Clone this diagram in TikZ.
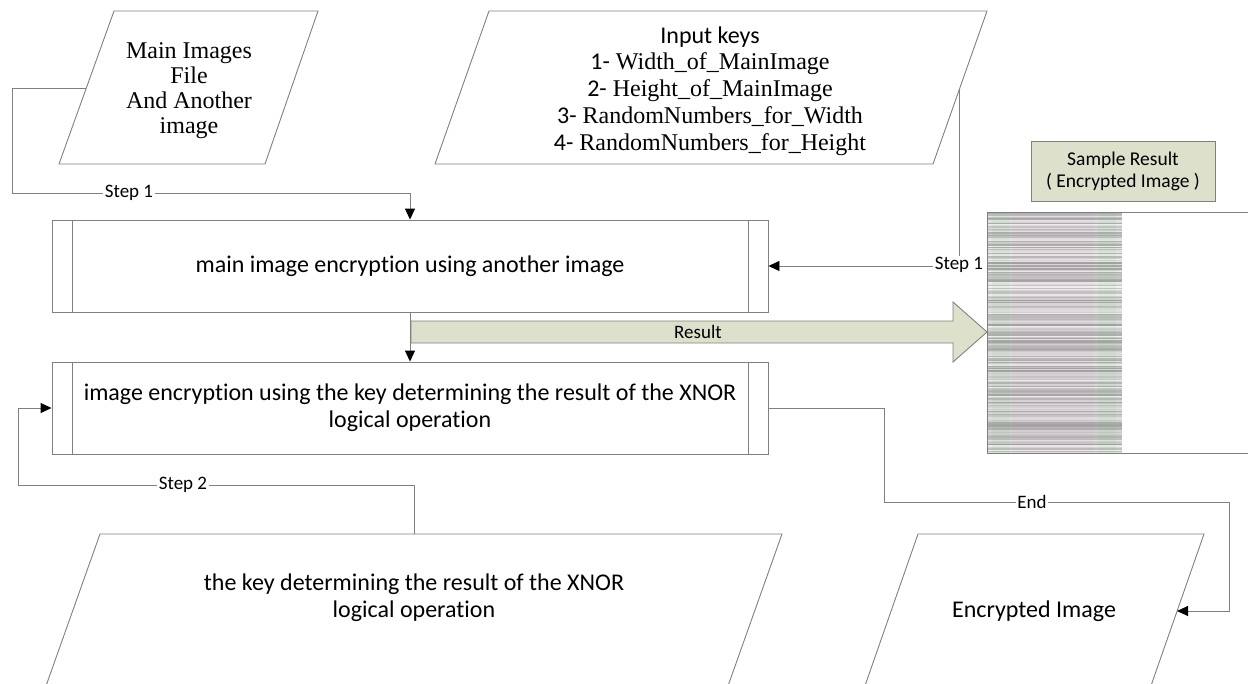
\documentclass[tikz,border=0pt]{standalone}
\usepackage{fontspec}
\setmainfont{Liberation Serif}
\newfontfamily\calib[Ligatures=NoCommon]{Carlito}
\usetikzlibrary{arrows.meta}
\definecolor{ln}{RGB}{128,128,128}
\definecolor{sage}{RGB}{221,224,203}
\begin{document}
\begin{tikzpicture}[x=1pt,y=-1pt,
  conn/.style={draw=ln, line width=0.9pt},
  arr/.style={conn, -{Triangle[length=11pt,width=10pt,color=black]}},
  proc/.style={draw=ln, line width=0.9pt, minimum width=716pt, minimum height=92pt,
    inner sep=0pt, align=center, font=\calib\fontsize{24}{27}\selectfont},
  io/.style={draw=ln, line width=0.9pt},
  lbl/.style={fill=white, inner sep=1.5pt, font=\calib\fontsize{19}{22}\selectfont},
  iotext/.style={align=center, font=\calib\fontsize{24}{27}\selectfont},
]
\useasboundingbox (0,0) rectangle (1248,683);
\begin{scope}
\clip (0,0) rectangle (1248,683);

% encrypted sample picture: noisy horizontal stripes
\pgfmathsetseed{12}
\fill[black!18] (987,212) rectangle (1122,453);
\foreach \k in {0,...,200} {
  \pgfmathsetmacro\yy{212.6+\k*1.2}
  \pgfmathrandominteger{\g}{6}{36}
  \draw[line width=1.2pt, black!\g] (987,\yy) -- (1122,\yy);
}
\fill[green!50!gray, opacity=0.06] (992,212) rectangle (1010,453);
\fill[green!50!gray, opacity=0.06] (1098,212) rectangle (1116,453);
\fill[magenta!60!gray, opacity=0.04] (1012,212) rectangle (1094,453);
\draw[conn] (987,212) rectangle (1270,453);

% sample caption
\node[draw=ln, line width=0.9pt, fill=sage, minimum width=184pt, minimum height=60pt,
  inner sep=0pt, align=center, font=\calib\fontsize{19.5}{22}\selectfont]
  (sample) at (1123,171) {Sample Result\\( Encrypted Image )};

% input: main images
\draw[io] (114,11) -- (318,11) -- (265,164) -- (59,164) -- cycle;
\node[align=center, font=\fontsize{24}{25}\selectfont] (mi) at (189,91)
  {Main Images\\File\\And Another\\image};
\coordinate (mi-w) at (86,88);

% input: keys
\draw[io] (489,11) -- (987,11) -- (933,164) -- (435,164) -- cycle;
\node[align=center, font=\fontsize{24}{26.8}\selectfont] (keys) at (710,91)
  {{\calib Input keys}\\
   {\calib 1-} Width\_of\_MainImage\\
   {\calib 2-} Height\_of\_MainImage\\
   {\calib 3-} RandomNumbers\_for\_Width\\
   {\calib 4-} RandomNumbers\_for\_Height};
\coordinate (keys-e) at (959,90);

% processing steps
\node[proc] (enc1) at (410,266) {main image encryption using another image};
\node[proc] (enc2) at (410,408) {image encryption using the key determining the result of the XNOR\\logical operation};
\foreach \b in {enc1,enc2} {
  \draw[conn] ([xshift=21pt]\b.north west) -- ([xshift=21pt]\b.south west);
  \draw[conn] ([xshift=-20pt]\b.north east) -- ([xshift=-20pt]\b.south east);
}

% input: XNOR key
\draw[io] (41,700) -- (100,534) -- (782,534) -- (723,700);
\node[iotext] (key) at (414,598) {the key determining the result of the XNOR\\logical operation};
\coordinate (key-n) at (414,534);

% output
\draw[io] (860,700) -- (918,534) -- (1204,534) -- (1146,700);
\node[iotext] (out) at (1034,611) {Encrypted Image};
\coordinate (out-e) at (1177,611);

% result block arrow
\draw[draw=ln, line width=0.9pt, fill=sage]
  (411,321) -- (953,321) -- (953,302) -- (987,332) -- (953,362) -- (953,343) -- (411,343) -- cycle;
\node[font=\calib\fontsize{19}{22}\selectfont] (res) at (698,332) {Result};

% connectors
\draw[arr] (mi-w) -| (12,193) -| (enc1.north);
\node[lbl] (s1a) at (129,193) {Step 1};

\draw[arr] (keys-e) |- (enc1.east);
\node[lbl] (s1b) at (959,265) {Step 1};

\draw[arr] (enc1.south) -- (enc2.north);

\draw[arr] (key-n) |- (18,485) |- (enc2.west);
\node[lbl] (s2) at (183,485) {Step 2};

\draw[arr] (enc2.east) -| (884,502) -| (1229,611) -- (out-e);
\node[lbl] (end) at (1032,502) {End};
\end{scope}
\end{tikzpicture}
\end{document}
